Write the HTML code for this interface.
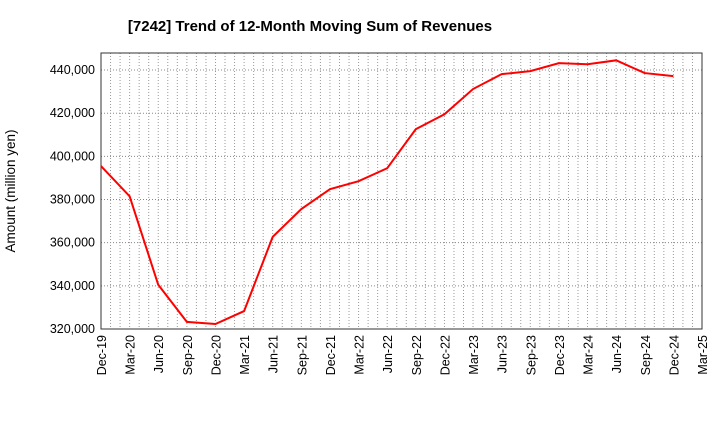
<!DOCTYPE html>
<html><head><meta charset="utf-8"><style>
body{margin:0;background:#fff;font-family:"Liberation Sans",sans-serif}
</style></head><body>
<svg width="720" height="440">
<text x="310" y="31" font-size="15" font-weight="bold" text-anchor="middle">[7242]  Trend of 12-Month Moving Sum of Revenues</text>
<g id="grid"></g>
<g id="axes"></g>
<path id="line" fill="none" stroke="#ff0000" stroke-width="2"/>
<text transform="translate(19,191) rotate(-90)" font-size="13.5" text-anchor="middle" x="0" dy="-4">Amount (million yen)</text>
</svg>
<script>
const xLabels=["Dec-19","Mar-20","Jun-20","Sep-20","Dec-20","Mar-21","Jun-21","Sep-21","Dec-21","Mar-22","Jun-22","Sep-22","Dec-22","Mar-23","Jun-23","Sep-23","Dec-23","Mar-24","Jun-24","Sep-24","Dec-24","Mar-25"];
const values=[395500,381500,340500,323300,322300,328300,362700,375600,384800,388500,394500,412600,419500,431200,438100,439500,443200,442700,444500,438600,437200];
const yTicks=[320000,340000,360000,380000,400000,420000,440000];
const L=101,R=702,T=53,B=329,yMin=320000,yMax=447900;
const X=i=>L+i*(R-L)/(xLabels.length-1);
const Y=v=>B-(v-yMin)/(yMax-yMin)*(B-T);
const ns="http://www.w3.org/2000/svg";
function mk(tag,attrs,parent,txt){const e=document.createElementNS(ns,tag);for(const k in attrs)e.setAttribute(k,attrs[k]);if(txt!==undefined)e.textContent=txt;document.getElementById(parent).appendChild(e);return e;}
yTicks.forEach(v=>{if(v>yMin){const g=mk('line',{x1:L,x2:R,y1:Y(v),y2:Y(v),stroke:'#888','stroke-dasharray':'1,2'},'grid');

}});
for(let m=1;m<(xLabels.length-1)*3;m++){const xv=X(m/3);const g=mk('line',{x1:xv,x2:xv,y1:T,y2:B,stroke:'#999','stroke-dasharray':'1,2'},'grid');

}
xLabels.forEach((l,i)=>{
const t=mk('text',{transform:`translate(${X(i)+5},${B+6}) rotate(-90)`,'font-size':12.5,'text-anchor':'end'},'axes',l);

});
yTicks.forEach(v=>{const t=mk('text',{x:L-6,y:Y(v)+4,'font-size':12.5,'text-anchor':'end'},'axes',v.toLocaleString('en-US'));

});
const fr=mk('rect',{x:L,y:T,width:R-L,height:B-T,fill:'none',stroke:'#333'},'axes');


document.getElementById('line').setAttribute('d',values.map((v,i)=>(i?'L':'M')+X(i)+','+Y(v)).join(''));
</script>
</body></html>
